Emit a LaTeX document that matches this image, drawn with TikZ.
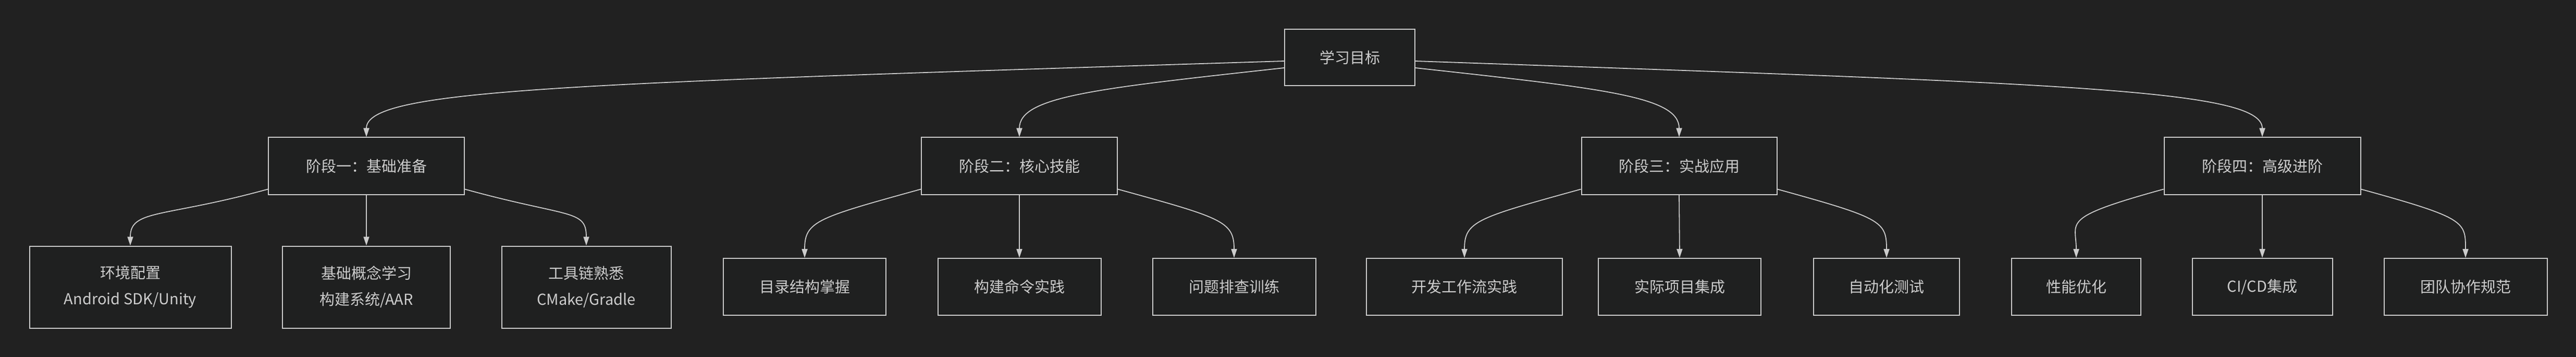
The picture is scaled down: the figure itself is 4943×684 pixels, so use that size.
\documentclass[tikz,border=0pt]{standalone}
\usepackage{fontspec}
\setmainfont{Noto Sans CJK SC}
\usetikzlibrary{arrows.meta,calc}
\definecolor{bg}{HTML}{212121}
\definecolor{bx}{HTML}{1F2020}
\definecolor{ln}{HTML}{CCCCCC}
\begin{document}
\begin{tikzpicture}[x=1pt,y=1pt,
  box/.style={draw=ln,fill=bx,line width=2pt,text=ln,inner sep=0pt,align=center,font=\fontsize{29}{50}\selectfont},
  edge/.style={draw=ln,line width=1.8pt,-{Triangle[length=17pt,width=11pt]}}]
\fill[bg] (0,0) rectangle (4943,-684);
\useasboundingbox (0,0) rectangle (4943,-684);
\node[box,minimum width=250,minimum height=108] (root) at (2590,-110) {学习目标};
\node[box,minimum width=376,minimum height=109] (p1) at (703,-318) {阶段一：基础准备};
\node[box,minimum width=376,minimum height=109] (p2) at (1956,-318) {阶段二：核心技能};
\node[box,minimum width=375,minimum height=109] (p3) at (3222,-318) {阶段三：实战应用};
\node[box,minimum width=377,minimum height=109] (p4) at (4341,-318) {阶段四：高级进阶};
\node[box,minimum width=387,minimum height=157] (l11) at (250,-550) {环境配置\\Android SDK/Unity};
\node[box,minimum width=322,minimum height=157] (l12) at (703,-550) {基础概念学习\\构建系统/AAR};
\node[box,minimum width=325,minimum height=157] (l13) at (1125,-550) {工具链熟悉\\CMake/Gradle};
\node[box,minimum width=312,minimum height=109] (l21) at (1544,-549.5) {目录结构掌握};
\node[box,minimum width=313,minimum height=109] (l22) at (1956,-549.5) {构建命令实践};
\node[box,minimum width=313,minimum height=109] (l23) at (2368,-549.5) {问题排查训练};
\node[box,minimum width=376,minimum height=109] (l31) at (2810,-549.5) {开发工作流实践};
\node[box,minimum width=312,minimum height=109] (l32) at (3223,-549.5) {实际项目集成};
\node[box,minimum width=280,minimum height=109] (l33) at (3620,-549.5) {自动化测试};
\node[box,minimum width=248,minimum height=109] (l41) at (3984,-549.5) {性能优化};
\node[box,minimum width=269,minimum height=109] (l42) at (4341,-549.5) {CI/CD集成};
\node[box,minimum width=313,minimum height=109] (l43) at (4731,-549.5) {团队协作规范};
% root edges
\draw[edge] ($(root.west)+(0,-7)$) .. controls (1100,-160) and (703,-170) .. (p1.north);
\draw[edge] ($(root.west)+(0,-20)$) .. controls (2100,-170) and (1956,-185) .. (p2.north);
\draw[edge] ($(root.east)+(0,-20)$) .. controls (3080,-170) and (3222,-185) .. (p3.north);
\draw[edge] ($(root.east)+(0,-7)$) .. controls (3950,-160) and (4341,-170) .. (p4.north);
% phase edges
\foreach \p/\a/\b/\c in {p1/l11/l12/l13,p2/l21/l22/l23,p3/l31/l32/l33,p4/l41/l42/l43}{
  \draw[edge] ($(\p.south west)+(0,11)$) .. controls +(-200,-55) and +(0,70) .. (\a.north);
  \draw[edge] (\p.south) -- (\b.north);
  \draw[edge] ($(\p.south east)+(0,11)$) .. controls +(200,-55) and +(0,70) .. (\c.north);
}
\end{tikzpicture}
\end{document}
